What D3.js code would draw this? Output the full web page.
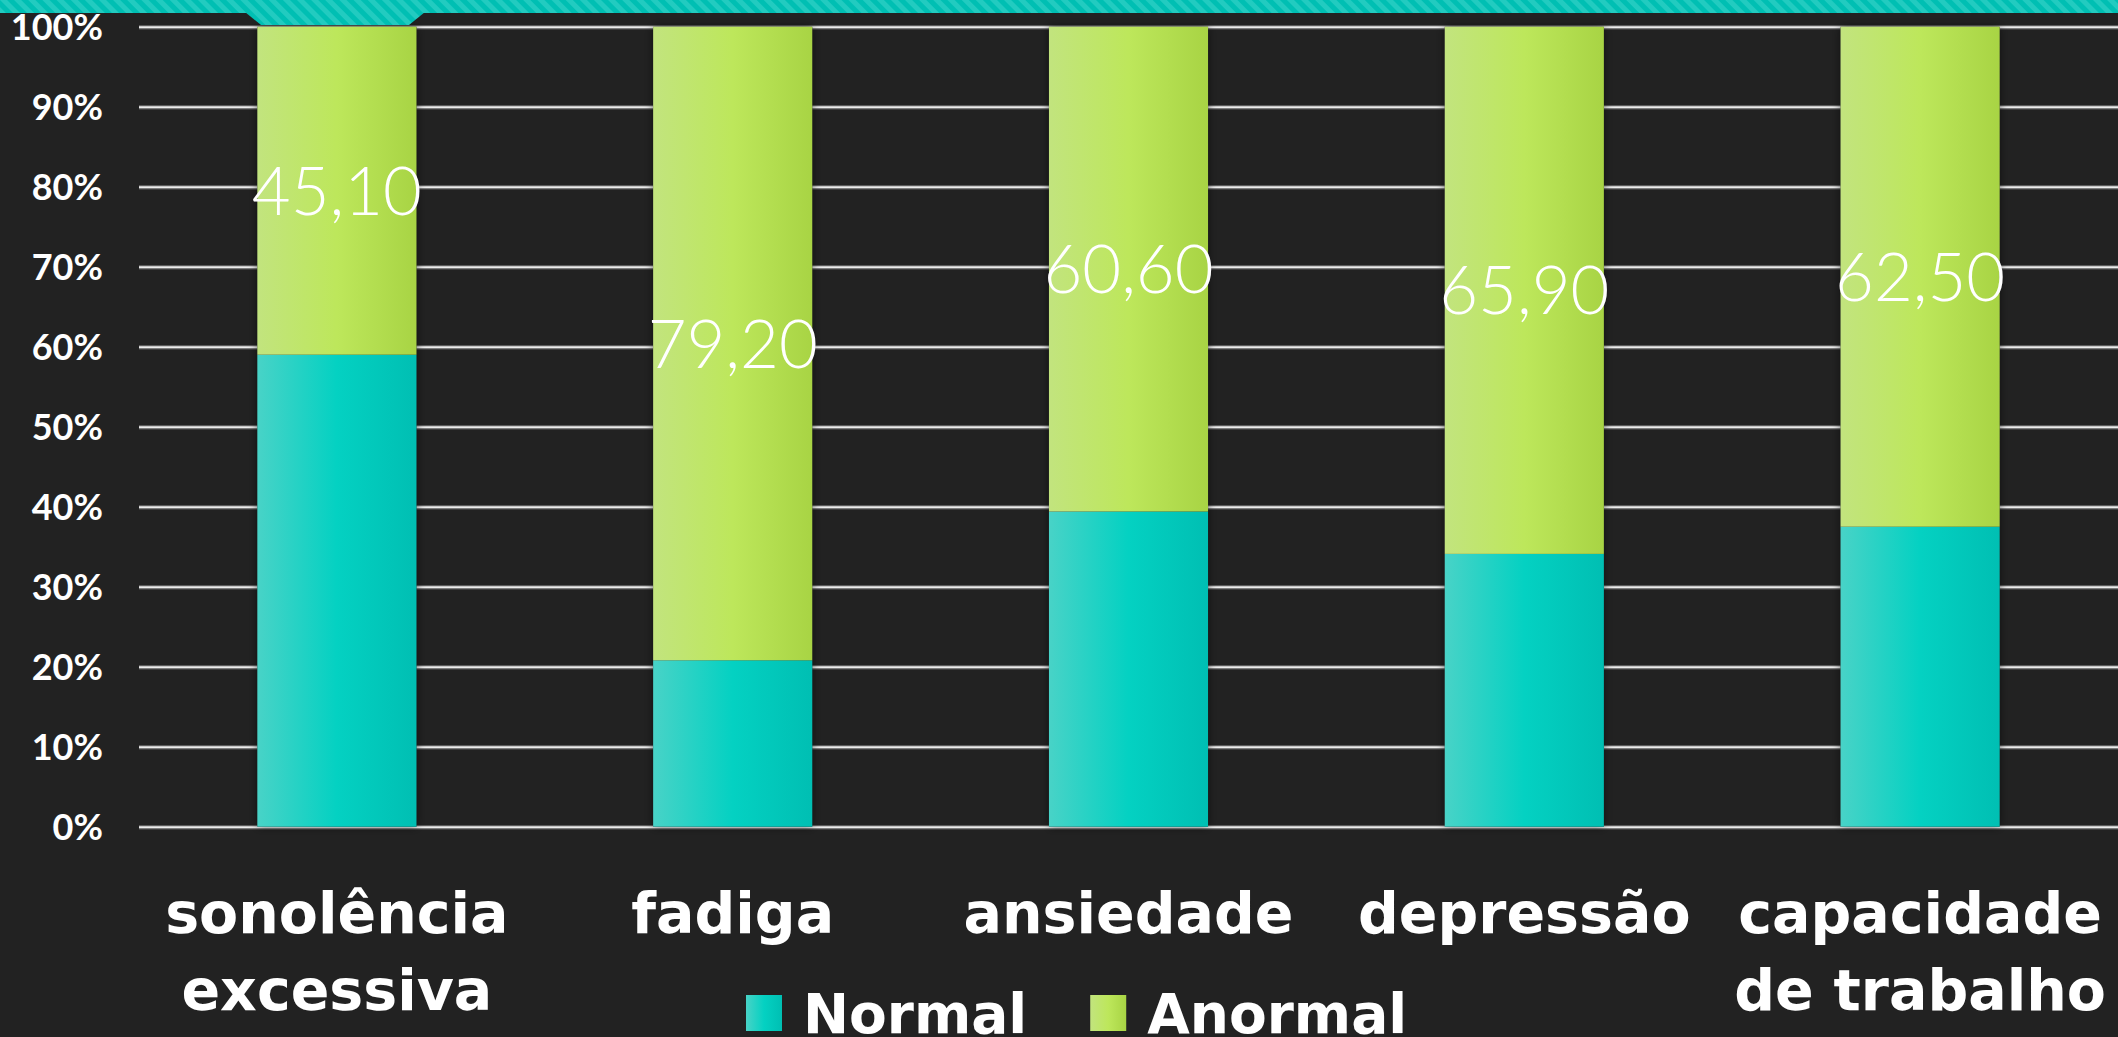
<!DOCTYPE html>
<html>
<head>
<meta charset="utf-8">
<script src="https://cdn.jsdelivr.net/npm/d3@7"></script>
<style>
  html, body { margin: 0; padding: 0; background: #222222; overflow: hidden; }
  svg { display: block; }
</style>
</head>
<body>
<svg id="chart" width="2118" height="1037"></svg>
<script>
// ---------- data ----------
const categories = [["sonolência", "excessiva"], ["fadiga"], ["ansiedade"], ["depressão"], ["capacidade", "de trabalho"]];
const seriesNames = ["Normal", "Anormal"];
const normalValues = [59.0, 20.8, 39.4, 34.1, 37.5];
const anormalValues = [41.0, 79.2, 60.6, 65.9, 62.5];
const dataLabels = ["45,10", "79,20", "60,60", "65,90", "62,50"];
const tickValues = [0, 10, 20, 30, 40, 50, 60, 70, 80, 90, 100];
const tickLabels = ["0%", "10%", "20%", "30%", "40%", "50%", "60%", "70%", "80%", "90%", "100%"];

// ---------- layout ----------
const W = 2118, H = 1037;
const plot = { left: 139, right: 2118, top: 26.7, bottom: 826.7 };
const svg = d3.select("#chart");

const defs = svg.append("defs");
function grad(id, stops) {
  const g = defs.append("linearGradient").attr("id", id)
    .attr("x1", "0%").attr("x2", "100%").attr("y1", "0%").attr("y2", "0%");
  stops.forEach(s => g.append("stop").attr("offset", s[0]).attr("stop-color", s[1]));
}
grad("gTeal", [["0%", "#48d3c7"], ["50%", "#04d1c2"], ["100%", "#00bfb3"]]);
grad("gGreen", [["0%", "#c2e47e"], ["50%", "#bde75b"], ["100%", "#a8d444"]]);

const shadow = defs.append("filter").attr("id", "shadow")
  .attr("x", "-20%").attr("y", "-5%").attr("width", "140%").attr("height", "110%");
shadow.append("feDropShadow").attr("dx", 0).attr("dy", 0).attr("stdDeviation", 5)
  .attr("flood-color", "#000").attr("flood-opacity", 0.55);

const pat = defs.append("pattern").attr("id", "stripes")
  .attr("patternUnits", "userSpaceOnUse").attr("width", 10).attr("height", 10)
  .attr("patternTransform", "rotate(-45)");
pat.append("rect").attr("width", 10).attr("height", 10).attr("fill", "#00bfb3");
pat.append("rect").attr("width", 5).attr("height", 10).attr("fill", "#22cbc0");

// background
svg.append("rect").attr("width", W).attr("height", H).attr("fill", "#222222");

// scales
const x = d3.scaleBand()
  .domain(d3.range(categories.length))
  .range([plot.left, plot.right])
  .paddingInner(0.598).paddingOuter(0.299);
const y = d3.scaleLinear().domain([0, 100]).range([plot.bottom, plot.top]);

// gridlines + y labels via axis
const axis = d3.axisLeft(y)
  .tickValues(tickValues)
  .tickSize(-(plot.right - plot.left))
  .tickPadding(36)
  .tickFormat((d, i) => tickLabels[i]);
const ax = svg.append("g").attr("transform", `translate(${plot.left},0)`).call(axis);
ax.select(".domain").remove();
ax.selectAll(".tick line").attr("stroke", "#5a5a5a").attr("stroke-width", 4.5);
ax.selectAll(".tick").append("line")
  .attr("x1", 0).attr("x2", plot.right - plot.left)
  .attr("stroke", "#ececec").attr("stroke-width", 2);
ax.selectAll(".tick text")
  .attr("fill", "#ffffff")
  .attr("font-family", "Lato, 'Open Sans', sans-serif")
  .attr("font-weight", 700)
  .attr("font-size", 36)
  .attr("dy", null)
  .attr("y", 13);

// stacked data
const rows = categories.map((c, i) => ({ i, Normal: normalValues[i], Anormal: anormalValues[i] }));
const stacked = d3.stack().keys(seriesNames)(rows);
const fills = { Normal: "url(#gTeal)", Anormal: "url(#gGreen)" };

// bar shadows (behind)
const barsG = svg.append("g");
barsG.append("g").attr("filter", "url(#shadow)")
  .selectAll("rect").data(rows).join("rect")
  .attr("x", d => x(d.i)).attr("width", x.bandwidth())
  .attr("y", d => y(d.Normal + d.Anormal))
  .attr("height", d => y(0) - y(d.Normal + d.Anormal))
  .attr("fill", "#222");

stacked.forEach(layer => {
  barsG.append("g").selectAll("rect").data(layer).join("rect")
    .attr("x", d => x(d.data.i))
    .attr("width", x.bandwidth())
    .attr("y", d => y(d[1]))
    .attr("height", d => y(d[0]) - y(d[1]))
    .attr("fill", fills[layer.key]);
});

// data labels on Anormal segment
const anLayer = stacked[1];
svg.append("g").selectAll("text").data(anLayer).join("text")
  .attr("x", d => x(d.data.i) + x.bandwidth() / 2)
  .attr("y", d => (y(d[0]) + y(d[1])) / 2 + 24)
  .attr("text-anchor", "middle")
  .attr("fill", "#ffffff")
  .attr("font-family", "Lato, 'Open Sans', sans-serif")
  .attr("font-weight", 300)
  .attr("font-size", 67)
  .text((d, i) => dataLabels[i]);

// category labels
const catG = svg.append("g");
categories.forEach((lines, i) => {
  lines.forEach((ln, j) => {
    catG.append("text")
      .attr("x", x(i) + x.bandwidth() / 2)
      .attr("y", 933 + j * 77)
      .attr("text-anchor", "middle")
      .attr("fill", "#ffffff")
      .attr("font-family", "'DejaVu Sans', sans-serif")
      .attr("font-weight", 700)
      .attr("font-size", 57)
      .text(ln);
  });
});

// top decorative band
svg.append("rect").attr("x", 0).attr("y", 0).attr("width", W).attr("height", 13).attr("fill", "url(#stripes)");
svg.append("polygon").attr("points", "245,12 425,12 409,25 261,25").attr("fill", "url(#stripes)");

// legend
const legend = svg.append("g");
let lx = 746;
seriesNames.forEach((name, i) => {
  legend.append("rect").attr("x", lx).attr("y", 995).attr("width", 36).attr("height", 36)
    .attr("fill", fills[name]);
  const t = legend.append("text").attr("x", lx + 57).attr("y", 1033)
    .attr("fill", "#ffffff")
    .attr("font-family", "'DejaVu Sans', sans-serif")
    .attr("font-weight", 700)
    .attr("font-size", 55)
    .text(name);
  lx = lx + 57 + t.node().getComputedTextLength() + 63;
});
</script>
</body>
</html>
